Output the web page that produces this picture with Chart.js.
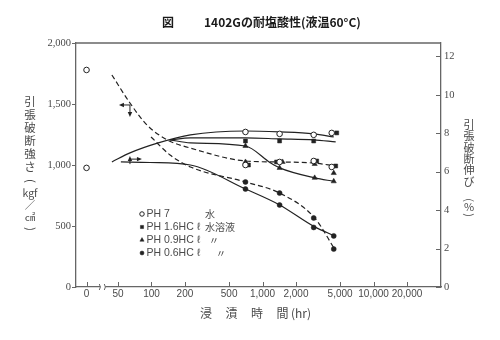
<!DOCTYPE html>
<html>
<head>
<meta charset="utf-8">
<script src="https://cdn.jsdelivr.net/npm/chart.js@4.4.1/dist/chart.umd.min.js"></script>
<style>
  html, body { margin: 0; padding: 0; background: #fff; }
  canvas { display: block; }
</style>
</head>
<body>
<canvas id="c" width="500" height="340"></canvas>
<script>
// Immersion time in hours on a log axis; hour 0 sits left of the axis break.
const ZERO_HOUR_POS = 26;
const X_TICK_HOURS = [0, 50, 100, 200, 500, 1000, 2000, 5000, 10000, 20000];
const X_TICK_LABELS = ['0', '50', '100', '200', '500', '1,000', '2,000', '5,000', '10,000', '20,000'];
const STRENGTH_TICKS = [0, 500, 1000, 1500, 2000];
const STRENGTH_TICK_LABELS = ['0', '500', '1,000', '1,500', '2,000'];
const ELONG_TICKS = [0, 2, 4, 6, 8, 10, 12];

const SERIES_NAMES = ['PH 7', 'PH 1.6HC ℓ', 'PH 0.9HC ℓ', 'PH 0.6HC ℓ'];
const SERIES_NOTES = ['水', '水溶液', '〃', '〃'];

// Measured tensile strength, kgf/cm²
const PH7_STR_HOURS = [0, 702, 1425, 2890, 4200];
const PH7_STR = [1779, 1000, 1025, 1033, 984];
const PH16_STR_HOURS = [747, 1338, 3075, 4560];
const PH16_STR = [1000, 1025, 1033, 992];
const PH09_STR_HOURS = [702, 1516, 2950, 4380];
const PH09_STR = [1025, 1025, 1008, 934];
const PH06_STR_HOURS = [702, 1425, 2890, 4380];
const PH06_STR = [861, 770, 566, 311];

// Measured elongation at break, %
const PH7_EL_HOURS = [0, 702, 1425, 2890, 4200];
const PH7_EL = [6.2, 8.07, 7.97, 7.92, 8.02];
const PH16_EL_HOURS = [702, 1425, 2890, 4660];
const PH16_EL = [7.6, 7.6, 7.6, 8.02];
const PH09_EL_HOURS = [702, 1425, 2950, 4380];
const PH09_EL = [7.34, 6.2, 5.68, 5.5];
const PH06_EL_HOURS = [702, 1425, 2890, 4380];
const PH06_EL = [5.1, 4.27, 3.1, 2.66];

// Trend curves (dashed = strength, solid = elongation)
const CURVE_STR_MAIN_HOURS = [44, 64, 91, 139, 224, 702, 1365, 2880, 4560];
const CURVE_STR_MAIN = [1738, 1508, 1328, 1205, 1139, 1033, 1025, 1016, 992];
const CURVE_STR_PH06_HOURS = [99, 147, 224, 702, 1425, 2950, 4460];
const CURVE_STR_PH06 = [1230, 1082, 984, 861, 770, 566, 311];
const CURVE_EL_PH7_HOURS = [44, 64, 115, 224, 702, 1425, 2880, 4380];
const CURVE_EL_PH7 = [6.51, 6.98, 7.5, 7.92, 8.12, 8.07, 7.97, 7.81];
const CURVE_EL_PH16_HOURS = [147, 224, 702, 1425, 2880, 4560];
const CURVE_EL_PH16 = [7.66, 7.76, 7.76, 7.71, 7.66, 7.55];
const CURVE_EL_PH09_HOURS = [147, 224, 702, 1180, 1425, 2950, 4380];
const CURVE_EL_PH09 = [7.66, 7.5, 7.34, 6.46, 6.2, 5.68, 5.5];
const CURVE_EL_PH06_HOURS = [53, 97, 224, 702, 1425, 2950, 4460];
const CURVE_EL_PH06 = [6.51, 6.48, 6.35, 5.1, 4.27, 3.13, 2.66];

// Axis-pointer arrows on the two curve families
const ARROW_HOUR = 64;
const ARROW_STR = 1492;
const ARROW_EL = 6.5;

const INK = '#222';
const AXIS = '#666';
const TEXT = '#4a4a4a';
const JP = '"Noto Sans CJK JP", sans-serif';

const hourPos = h => (h === 0 ? ZERO_HOUR_POS : h);
const pts = (hours, vals) => hours.map((h, i) => ({ x: hourPos(h), y: vals[i] }));

const MARKERS = [
  { style: 'circle', r: 2.8, fill: '#fff', bw: 1 },
  { style: 'rect', r: 2.8, fill: INK, bw: 0.5 },
  { style: 'triangle', r: 3.0, fill: INK, bw: 0.5 },
  { style: 'circle', r: 2.5, fill: INK, bw: 0.5 }
];

function markerSet(hours, vals, k, axis) {
  const m = MARKERS[k];
  return {
    data: pts(hours, vals), yAxisID: axis, showLine: false,
    pointStyle: m.style, pointRadius: m.r, pointBackgroundColor: m.fill,
    pointBorderColor: INK, pointBorderWidth: m.bw
  };
}
function curveSet(hours, vals, axis, dashed) {
  return {
    data: pts(hours, vals), yAxisID: axis, showLine: true, pointRadius: 0,
    borderColor: INK, borderWidth: 1.2, borderDash: dashed ? [5, 3] : [],
    cubicInterpolationMode: 'monotone', fill: false
  };
}

const datasets = [
  markerSet(PH7_STR_HOURS, PH7_STR, 0, 'y'),
  markerSet(PH16_STR_HOURS, PH16_STR, 1, 'y'),
  markerSet(PH09_STR_HOURS, PH09_STR, 2, 'y'),
  markerSet(PH06_STR_HOURS, PH06_STR, 3, 'y'),
  markerSet(PH7_EL_HOURS, PH7_EL, 0, 'y2'),
  markerSet(PH16_EL_HOURS, PH16_EL, 1, 'y2'),
  markerSet(PH09_EL_HOURS, PH09_EL, 2, 'y2'),
  markerSet(PH06_EL_HOURS, PH06_EL, 3, 'y2'),
  curveSet(CURVE_STR_MAIN_HOURS, CURVE_STR_MAIN, 'y', true),
  curveSet(CURVE_STR_PH06_HOURS, CURVE_STR_PH06, 'y', true),
  curveSet(CURVE_EL_PH7_HOURS, CURVE_EL_PH7, 'y2', false),
  curveSet(CURVE_EL_PH16_HOURS, CURVE_EL_PH16, 'y2', false),
  curveSet(CURVE_EL_PH09_HOURS, CURVE_EL_PH09, 'y2', false),
  curveSet(CURVE_EL_PH06_HOURS, CURVE_EL_PH06, 'y2', false)
];

function seg(ctx, x1, y1, x2, y2) {
  ctx.beginPath(); ctx.moveTo(x1, y1); ctx.lineTo(x2, y2); ctx.stroke();
}
function head(ctx, x, y, dx, dy) {
  // small filled arrowhead pointing along (dx, dy)
  const px = -dy, py = dx;
  ctx.beginPath();
  ctx.moveTo(x, y);
  ctx.lineTo(x - dx * 5 + px * 2.2, y - dy * 5 + py * 2.2);
  ctx.lineTo(x - dx * 5 - px * 2.2, y - dy * 5 - py * 2.2);
  ctx.closePath(); ctx.fill();
}
function vText(ctx, s, x, y, rotate) {
  ctx.save();
  ctx.translate(x, y);
  if (rotate) ctx.rotate(Math.PI / 2);
  ctx.fillText(s, 0, 0);
  ctx.restore();
}

const decor = {
  id: 'decor',
  afterDraw(chart) {
    const { ctx, chartArea: a, scales } = chart;
    const { x, y, y2 } = scales;
    ctx.save();
    ctx.strokeStyle = AXIS; ctx.lineWidth = 1.3;
    seg(ctx, a.left, a.top, a.right, a.top);
    ctx.lineWidth = 1;
    X_TICK_HOURS.forEach(h => {
      const px = Math.round(x.getPixelForValue(hourPos(h))) + 0.5;
      seg(ctx, px, a.bottom, px, a.bottom - 5);
    });
    ELONG_TICKS.forEach(v => {
      const py = Math.round(y2.getPixelForValue(v)) + 0.5;
      seg(ctx, a.right - 5, py, a.right, py);
    });
    // break in the time axis between 0 and 50 h
    const bx = (x.getPixelForValue(hourPos(0)) + x.getPixelForValue(50)) / 2 + 0.5;
    ctx.fillStyle = '#fff';
    ctx.fillRect(bx - 2.5, a.bottom - 2, 5, 4);
    ctx.strokeStyle = AXIS; ctx.lineWidth = 1;
    [-2.5, 2.5].forEach(o => {
      ctx.beginPath();
      ctx.moveTo(bx + o - 1, a.bottom - 3);
      ctx.quadraticCurveTo(bx + o + 1.2, a.bottom, bx + o - 1, a.bottom + 3);
      ctx.stroke();
    });

    // arrows telling which axis each curve family uses
    ctx.strokeStyle = INK; ctx.fillStyle = INK; ctx.lineWidth = 1;
    const ax = x.getPixelForValue(ARROW_HOUR);
    const ay = y.getPixelForValue(ARROW_STR);
    seg(ctx, ax, ay, ax - 9, ay); head(ctx, ax - 11, ay, -1, 0);
    seg(ctx, ax, ay, ax, ay + 9); head(ctx, ax, ay + 12, 0, 1);
    const ex = x.getPixelForValue(ARROW_HOUR);
    const ey = y2.getPixelForValue(ARROW_EL);
    seg(ctx, ex, ey + 2, ex, ey - 4); head(ctx, ex, ey - 6, 0, -1);
    seg(ctx, ex, ey - 3, ex + 9, ey - 3); head(ctx, ex + 12, ey - 3, 1, 0);

    // title
    ctx.fillStyle = '#1a1a1a';
    ctx.textBaseline = 'middle';
    ctx.textAlign = 'center';
    ctx.font = 'bold 12px ' + JP;
    ctx.fillText('図', 168, 22);
    ctx.textAlign = 'left';
    ctx.fillText('1402Gの耐塩酸性(液温60°C)', 204, 22);

    // vertical axis titles
    ctx.fillStyle = TEXT;
    ctx.textAlign = 'center';
    ctx.font = '11.5px ' + JP;
    ['引', '張', '破', '断', '強', 'さ'].forEach((ch, i) => vText(ctx, ch, 30, 102 + i * 13, false));
    vText(ctx, '(', 30, 181, true);
    ctx.font = '10.5px ' + JP;
    vText(ctx, 'kgf', 30, 193, false);
    vText(ctx, '／', 30, 205, false);
    vText(ctx, '㎠', 30, 217, false);
    ctx.font = '11.5px ' + JP;
    vText(ctx, ')', 30, 229, true);

    ctx.font = '11px ' + JP;
    ['引', '張', '破', '断', '伸', 'び'].forEach((ch, i) => vText(ctx, ch, 469, 125 + i * 11.3, false));
    vText(ctx, '(', 469, 200, true);
    vText(ctx, '%', 469, 207, false);
    vText(ctx, ')', 469, 215, true);

    // time axis title
    ctx.font = '12px ' + JP;
    ['浸', '漬', '時', '間'].forEach((ch, i) => ctx.fillText(ch, 206 + i * 25.5, 313));
    ctx.textAlign = 'left';
    ctx.fillText('(hr)', 291, 313);

    // legend
    const rows = [214, 227, 240, 253];
    const notesX = [205, 205, 209, 216];
    rows.forEach((ry, k) => {
      const m = MARKERS[k];
      ctx.fillStyle = m.fill; ctx.strokeStyle = INK; ctx.lineWidth = m.bw;
      Chart.helpers.drawPoint(ctx, { pointStyle: m.style, radius: m.r * 0.8, borderWidth: m.bw }, 142, ry);
      ctx.fillStyle = TEXT;
      ctx.font = '10.5px "Liberation Sans", sans-serif';
      ctx.textAlign = 'left';
      ctx.fillText(SERIES_NAMES[k], 146.5, ry);
      ctx.font = '10px ' + JP;
      ctx.fillText(SERIES_NOTES[k], notesX[k], ry);
    });
    ctx.restore();
  }
};

new Chart(document.getElementById('c'), {
  type: 'scatter',
  data: { datasets },
  options: {
    responsive: false,
    animation: false,
    devicePixelRatio: 1,
    layout: { padding: { top: 43, left: 0, right: 0, bottom: 0 } },
    plugins: { legend: { display: false }, tooltip: { enabled: false }, title: { display: false } },
    scales: {
      x: {
        type: 'logarithmic',
        min: 20.9, max: 40500,
        afterBuildTicks: s => { s.ticks = X_TICK_HOURS.map(h => ({ value: hourPos(h) })); },
        afterFit: s => { s.height = 53; },
        grid: { display: false, drawTicks: false },
        border: { display: true, color: AXIS, width: 1.3 },
        ticks: {
          autoSkip: false, maxRotation: 0, padding: 1, color: TEXT,
          font: { family: '"Liberation Sans", sans-serif', size: 10 },
          callback: (v, i) => X_TICK_LABELS[i]
        }
      },
      y: {
        position: 'left', min: 0, max: 2000,
        afterBuildTicks: s => { s.ticks = STRENGTH_TICKS.map(v => ({ value: v })); },
        afterFit: s => { s.width = 76; },
        grid: { display: true, drawOnChartArea: false, drawTicks: true, tickLength: 4, color: AXIS },
        border: { display: true, color: AXIS, width: 1.3 },
        ticks: {
          padding: 1, color: TEXT,
          font: { family: '"Liberation Serif", serif', size: 10.5 },
          callback: (v, i) => STRENGTH_TICK_LABELS[i]
        }
      },
      y2: {
        position: 'right', min: 0, max: 12.7,
        afterBuildTicks: s => { s.ticks = ELONG_TICKS.map(v => ({ value: v })); },
        afterFit: s => { s.width = 59; },
        grid: { display: false, drawTicks: false },
        border: { display: true, color: AXIS, width: 1.3 },
        ticks: {
          padding: 3, color: TEXT,
          font: { family: '"Liberation Serif", serif', size: 10.5 },
          callback: v => String(v)
        }
      }
    }
  },
  plugins: [decor]
});
</script>
</body>
</html>
